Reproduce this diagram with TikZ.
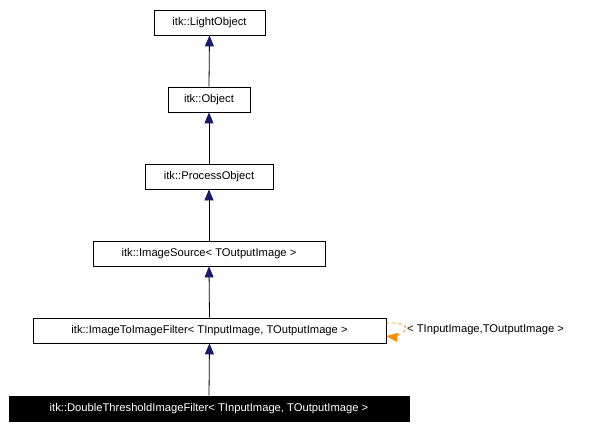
\documentclass[tikz,border=0pt]{standalone}
\usepackage{fontspec}
\setmainfont{Liberation Sans}
\usetikzlibrary{arrows.meta}

\begin{document}
\begin{tikzpicture}[x=1pt,y=-1pt,font=\fontsize{11.2pt}{13pt}\selectfont,
  box/.style={draw=black,line width=0.8pt,fill=white,minimum height=25pt,inner sep=0pt},
  navyhead/.style={{Triangle[length=11pt,width=9pt,fill=navy,color=navy]}-,draw=black,line width=0.8pt}]
  \definecolor{navy}{RGB}{25,25,112}
  \useasboundingbox (0,0) rectangle (606,428);
  \node[box,minimum width=111pt] (light) at (209.5,22.5) {itk::LightObject};
  \node[box,minimum width=82pt] (obj) at (209,99.5) {itk::Object};
  \node[box,minimum width=128pt] (proc) at (209,176.5) {itk::ProcessObject};
  \node[box,minimum width=232pt] (src) at (209,253.5) {itk::ImageSource< TOutputImage >};
  \node[box,minimum width=353pt] (filt) at (209.5,330.5) {itk::ImageToImageFilter< TInputImage, TOutputImage >};
  \node[box,fill=black,text=white,minimum width=400pt] (dt) at (209,408.5) {itk::DoubleThresholdImageFilter< TInputImage, TOutputImage >};
  % inheritance
  \draw[navyhead] (light.south) -- (obj.north);
  \draw[navyhead] (obj.south) -- (proc.north);
  \draw[navyhead] (proc.south) -- (src.north);
  \draw[navyhead] (src.south) -- (filt.north);
  \draw[navyhead] (filt.south) -- (dt.north);
  % template self link
  \coordinate (loop) at (406,330);
  \draw[orange!90!yellow,dashed,line width=0.8pt,-{Triangle[length=11pt,width=9pt]}]
    (filt.east |- 0,323) .. controls (400,322) and (408,326) .. (loop)
    .. controls (400,334) and (394,337) .. (filt.east |- 0,336);
  \node[anchor=west,inner sep=0pt] (tpl) at (407,330) {< TInputImage,TOutputImage >};
\end{tikzpicture}
\end{document}
